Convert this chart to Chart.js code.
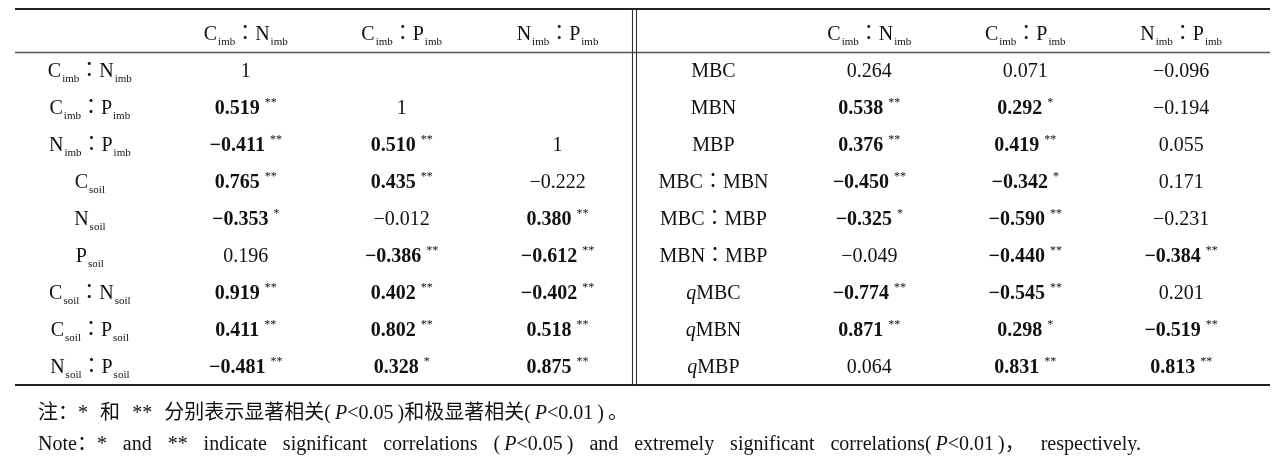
<!DOCTYPE html>
<html>
<head>
<meta charset="utf-8">
<script src="https://cdn.jsdelivr.net/npm/chart.js@4.4.1/dist/chart.umd.min.js"></script>
<style>
html,body{margin:0;padding:0;background:#fff}
</style>
</head>
<body>
<canvas id="tbl" width="1277" height="464"></canvas>
<script>
// headers / row labels ( _{..} subscript, ^{..} superscript, $..$ italic )
const colHeads = ['C_{imb}：N_{imb}', 'C_{imb}：P_{imb}', 'N_{imb}：P_{imb}'];
const leftRows = ['C_{imb}：N_{imb}', 'C_{imb}：P_{imb}', 'N_{imb}：P_{imb}', 'C_{soil}', 'N_{soil}', 'P_{soil}',
  'C_{soil}：N_{soil}', 'C_{soil}：P_{soil}', 'N_{soil}：P_{soil}'];
const rightRows = ['MBC', 'MBN', 'MBP', 'MBC：MBN', 'MBC：MBP', 'MBN：MBP', '$q$MBC', '$q$MBN', '$q$MBP'];

// left block: soil / imbalance correlations
const leftCN    = [1, 0.519, -0.411, 0.765, -0.353, 0.196, 0.919, 0.411, -0.481];
const leftCNsig = ['', '**', '**', '**', '*', '', '**', '**', '**'];
const leftCP    = [null, 1, 0.510, 0.435, -0.012, -0.386, 0.402, 0.802, 0.328];
const leftCPsig = ['', '', '**', '**', '', '**', '**', '**', '*'];
const leftNP    = [null, null, 1, -0.222, 0.380, -0.612, -0.402, 0.518, 0.875];
const leftNPsig = ['', '', '', '', '**', '**', '**', '**', '**'];

// right block: microbial biomass correlations
const rightCN    = [0.264, 0.538, 0.376, -0.450, -0.325, -0.049, -0.774, 0.871, 0.064];
const rightCNsig = ['', '**', '**', '**', '*', '', '**', '**', ''];
const rightCP    = [0.071, 0.292, 0.419, -0.342, -0.590, -0.440, -0.545, 0.298, 0.831];
const rightCPsig = ['', '*', '**', '*', '**', '**', '**', '*', '**'];
const rightNP    = [-0.096, -0.194, 0.055, 0.171, -0.231, -0.384, 0.201, -0.519, 0.813];
const rightNPsig = ['', '', '', '', '', '**', '', '**', '**'];

// plain spaces stretch, thin spaces (\u2009) don't
const noteCn = '注：* 和 ** 分别表示显著相关(\u2009$P$<0.05\u2009)和极显著相关(\u2009$P$<0.01\u2009)\u2009。';
const noteEn = 'Note：* and ** indicate significant correlations (\u2009$P$<0.05\u2009) and extremely significant correlations(\u2009$P$<0.01\u2009)， respectively.';

const TABLE_FONT = '"Liberation Serif","Noto Sans CJK JP",serif';
const NOTE_FONT = '"Liberation Serif","Noto Sans CJK SC",serif';
const FS = 20;

function fmt(v) {
  if (v === 1) return '1';
  return (v < 0 ? '−' : '') + Math.abs(v).toFixed(3);
}

function valueColumn(x, vals, sigs) {
  const pts = [];
  vals.forEach((v, i) => {
    if (v === null) return;
    pts.push({x: x, y: i + 1, label: fmt(v) + (sigs[i] ? ' ^{' + sigs[i] + '}' : ''), bold: sigs[i] !== ''});
  });
  return pts;
}
function labelColumn(x, labels) {
  return labels.map((s, i) => ({x: x, y: i + 1, label: s, bold: false}));
}
function headRow(xs) {
  return xs.map((x, i) => ({x: x, y: 0, label: colHeads[i % 3], bold: false}));
}

function parseRich(s) {
  const out = [];
  let buf = '', i = 0;
  const push = (t, k) => { if (t) out.push({t, k}); };
  while (i < s.length) {
    const c = s[i];
    if ((c === '_' || c === '^') && s[i + 1] === '{') {
      push(buf, 'n'); buf = '';
      const j = s.indexOf('}', i);
      push(s.slice(i + 2, j), c === '_' ? 'sub' : 'sup');
      i = j + 1; continue;
    }
    if (c === '$') {
      push(buf, 'n'); buf = '';
      const j = s.indexOf('$', i + 1);
      push(s.slice(i + 1, j), 'it');
      i = j + 1; continue;
    }
    buf += c; i++;
  }
  push(buf, 'n');
  return out;
}

function segFont(k, bold, size, fam) {
  if (k === 'sub') return Math.round(size * 0.56) + 'px ' + fam;
  if (k === 'sup') return Math.round(size * 0.6) + 'px ' + fam;
  return (k === 'it' ? 'italic ' : '') + (bold ? 'bold ' : '') + size + 'px ' + fam;
}

// draws mixed text; align 'center' or 'left'; width>0 stretches the plain spaces
function drawRich(ctx, str, x, y, o) {
  const size = o.size || FS;
  const fam = o.family || TABLE_FONT;
  const pcs = [];
  parseRich(str).forEach(s => {
    s.t.split(/( )/).forEach(t => {
      if (!t) return;
      ctx.font = segFont(s.k, o.bold, size, fam);
      pcs.push({t, f: ctx.font, sp: t === ' ',
        pre: s.k === 'sub' ? 1 : 0,
        dy: s.k === 'sub' ? size * 0.26 : s.k === 'sup' ? -size * 0.42 : 0,
        w: ctx.measureText(t).width});
    });
  });
  let total = pcs.reduce((a, p) => a + p.w + p.pre, 0);
  let extra = 0;
  const nsp = pcs.filter(p => p.sp).length;
  if (o.width && nsp) extra = (o.width - total) / nsp;
  if (o.width) total = o.width;
  let cx = o.align === 'left' ? x : x - total / 2;
  const base = y + size * 0.34;
  ctx.fillStyle = '#111';
  ctx.textBaseline = 'alphabetic';
  ctx.textAlign = 'left';
  pcs.forEach(p => {
    ctx.font = p.f;
    cx += p.pre;
    if (!p.sp) ctx.fillText(p.t, cx, base + p.dy);
    cx += p.w + (p.sp ? extra : 0);
  });
}

const tablePlugin = {
  id: 'tablePlugin',
  beforeDatasetsDraw(chart) {
    const {ctx, chartArea: a, scales: {x, y}} = chart;
    ctx.save();
    ctx.strokeStyle = '#222';
    ctx.lineWidth = 2;
    ctx.beginPath();
    ctx.moveTo(a.left, a.top); ctx.lineTo(a.right, a.top);
    ctx.moveTo(a.left, a.bottom); ctx.lineTo(a.right, a.bottom);
    ctx.stroke();
    ctx.strokeStyle = '#555';
    ctx.lineWidth = 1.3;
    const hy = Math.round(y.getPixelForValue(0.5)) + 0.5;
    ctx.beginPath();
    ctx.moveTo(a.left, hy); ctx.lineTo(a.right, hy);
    ctx.stroke();
    const dx = Math.round(x.getPixelForValue(3.5)) - 0.5;
    ctx.strokeStyle = '#333';
    ctx.lineWidth = 1.1;
    ctx.beginPath();
    ctx.moveTo(dx - 2, a.top); ctx.lineTo(dx - 2, a.bottom);
    ctx.moveTo(dx + 2, a.top); ctx.lineTo(dx + 2, a.bottom);
    ctx.stroke();
    ctx.restore();
  },
  afterDatasetsDraw(chart) {
    const {ctx, chartArea: a} = chart;
    ctx.save();
    chart.data.datasets.forEach((ds, d) => {
      chart.getDatasetMeta(d).data.forEach((el, i) => {
        const c = ds.data[i];
        drawRich(ctx, c.label, el.x, el.y, {bold: c.bold, align: 'center'});
      });
    });
    drawRich(ctx, noteCn, a.left + 23, a.bottom + 27, {align: 'left', size: 20, family: NOTE_FONT, width: 590});
    drawRich(ctx, noteEn, a.left + 23, a.bottom + 58, {align: 'left', size: 20, family: NOTE_FONT, width: 1103});
    ctx.restore();
  }
};

const cellSet = (data) => ({data, pointRadius: 0, pointHoverRadius: 0, showLine: false});

new Chart('tbl', {
  type: 'scatter',
  data: {
    datasets: [
      cellSet(headRow([1, 2, 3, 5, 6, 7])),
      cellSet(labelColumn(0, leftRows)),
      cellSet(valueColumn(1, leftCN, leftCNsig)),
      cellSet(valueColumn(2, leftCP, leftCPsig)),
      cellSet(valueColumn(3, leftNP, leftNPsig)),
      cellSet(labelColumn(4, rightRows)),
      cellSet(valueColumn(5, rightCN, rightCNsig)),
      cellSet(valueColumn(6, rightCP, rightCPsig)),
      cellSet(valueColumn(7, rightNP, rightNPsig))
    ]
  },
  options: {
    responsive: false,
    animation: false,
    layout: {padding: {left: 15, right: 7, top: 9, bottom: 79}},
    plugins: {legend: {display: false}, tooltip: {enabled: false}},
    scales: {
      x: {type: 'linear', min: -0.48, max: 7.57, display: false},
      y: {type: 'linear', min: -0.65, max: 9.5, reverse: true, display: false}
    }
  },
  plugins: [tablePlugin]
});
</script>
</body>
</html>
